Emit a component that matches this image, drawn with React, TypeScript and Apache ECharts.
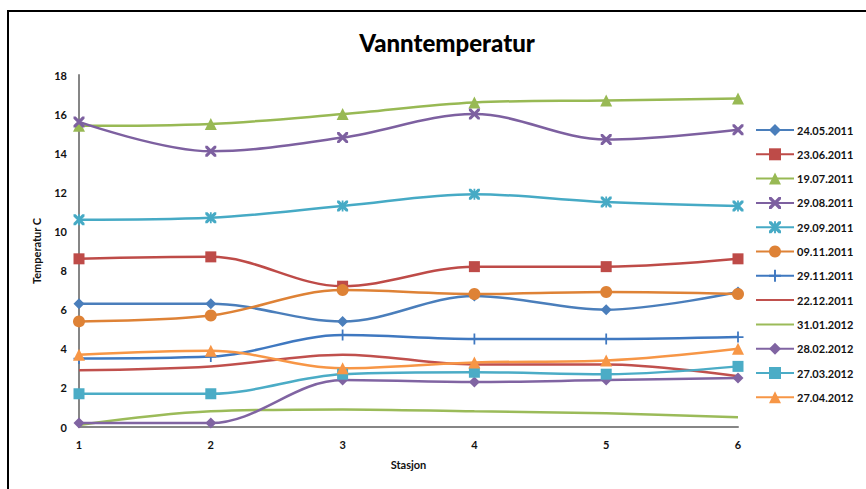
import React, { useEffect, useRef } from "react";
import * as echarts from "echarts";

const stations = ["1", "2", "3", "4", "5", "6"];

const yTicks = { min: 0, max: 18, interval: 2 };

const dates = [
  "24.05.2011",
  "23.06.2011",
  "19.07.2011",
  "29.08.2011",
  "29.09.2011",
  "09.11.2011",
  "29.11.2011",
  "22.12.2011",
  "31.01.2012",
  "28.02.2012",
  "27.03.2012",
  "27.04.2012",
];

const t240511 = [6.3, 6.3, 5.4, 6.7, 6.0, 6.9];
const t230611 = [8.6, 8.7, 7.2, 8.2, 8.2, 8.6];
const t190711 = [15.4, 15.5, 16.0, 16.6, 16.7, 16.8];
const t290811 = [15.6, 14.1, 14.8, 16.0, 14.7, 15.2];
const t290911 = [10.6, 10.7, 11.3, 11.9, 11.5, 11.3];
const t091111 = [5.4, 5.7, 7.0, 6.8, 6.9, 6.8];
const t291111 = [3.5, 3.6, 4.7, 4.5, 4.5, 4.6];
const t221211 = [2.9, 3.1, 3.7, 3.2, 3.2, 2.6];
const t310112 = [0.1, 0.8, 0.9, 0.8, 0.7, 0.5];
const t280212 = [0.2, 0.2, 2.4, 2.3, 2.4, 2.5];
const t270312 = [1.7, 1.7, 2.7, 2.8, 2.7, 3.1];
const t270412 = [3.7, 3.9, 3.0, 3.3, 3.4, 4.0];

const temps = [
  t240511, t230611, t190711, t290811, t290911, t091111,
  t291111, t221211, t310112, t280212, t270312, t270412,
];

const colors = [
  "#4A7EBB", "#BE4B48", "#98B954", "#7D60A0", "#46AAC5", "#DE8236",
  "#3F78C0", "#C0504D", "#9BBB59", "#8064A2", "#4BACC6", "#F79646",
];

const crossPath =
  "path://M0,0 L2,0 L10,8 L10,10 L8,10 L0,2 Z M8,0 L10,0 L10,2 L2,10 L0,10 L0,8 Z";
const starPath =
  "path://M0,0 L2,0 L10,8 L10,10 L8,10 L0,2 Z M8,0 L10,0 L10,2 L2,10 L0,10 L0,8 Z M4.2,0 L5.8,0 L5.8,10 L4.2,10 Z";
const plusPath =
  "path://M4.2,0 L5.8,0 L5.8,4.2 L10,4.2 L10,5.8 L5.8,5.8 L5.8,10 L4.2,10 L4.2,5.8 L0,5.8 L0,4.2 L4.2,4.2 Z";

const symbols = [
  "diamond", "rect", "triangle", crossPath, starPath, "circle",
  plusPath, "none", "none", "diamond", "rect", "triangle",
];
const symbolSizes = [11, 11, 12, 11, 11, 12, 11, 0, 0, 11, 11, 12];

const FONT = "Lato, 'Open Sans', sans-serif";

export default function App() {
  const ref = useRef<HTMLDivElement>(null);

  useEffect(() => {
    if (!ref.current) return;
    const chart = echarts.init(ref.current, undefined, { renderer: "svg" });

    const series = dates.map((name, i) => ({
      name,
      type: "line",
      data: temps[i],
      smooth: 0.35,
      symbol: symbols[i],
      symbolSize: symbolSizes[i],
      showSymbol: symbols[i] !== "none",
      lineStyle: { color: colors[i], width: 2.5 },
      itemStyle: { color: colors[i] },
      emphasis: { disabled: true },
    }));

    // plain-line series get a legend swatch without a marker
    const legendData = dates.map((name, i) =>
      symbols[i] === "none"
        ? { name, itemStyle: { opacity: 0 } }
        : { name }
    );

    chart.setOption({
      animation: false,
      backgroundColor: "#ffffff",
      title: {
        text: "Vanntemperatur",
        left: 442,
        top: 25,
        textAlign: "center",
        textStyle: {
          fontFamily: FONT,
          fontWeight: 900,
          fontSize: 24,
          color: "#000",
        },
      },
      graphic: [
        {
          type: "rect",
          shape: { x: 8, y: 11, width: 900, height: 520 },
          style: { fill: "none", stroke: "#000", lineWidth: 2 },
          silent: true,
        },
      ],
      legend: {
        orient: "vertical",
        left: 750,
        top: 119,
        itemGap: 12.3,
        itemWidth: 38,
        itemHeight: 15,
        data: legendData,
        textStyle: {
          fontFamily: FONT,
          fontWeight: "bold",
          fontSize: 11,
          color: "#111",
          padding: [0, 0, 0, -2],
        },
      },
      grid: { left: 79, right: 128, top: 75, bottom: 62 },
      xAxis: {
        type: "category",
        data: stations,
        boundaryGap: false,
        name: "Stasjon",
        nameLocation: "middle",
        nameGap: 32,
        nameTextStyle: {
          fontFamily: FONT,
          fontWeight: "bold",
          fontSize: 11,
          color: "#111",
        },
        axisLine: { lineStyle: { color: "#868686", width: 2 } },
        axisTick: { show: false },
        axisLabel: {
          fontFamily: FONT,
          fontWeight: "bold",
          fontSize: 11,
          color: "#111",
          margin: 12,
        },
        splitLine: { show: false },
      },
      yAxis: {
        type: "value",
        min: yTicks.min,
        max: yTicks.max,
        interval: yTicks.interval,
        name: "Temperatur C",
        nameLocation: "middle",
        nameGap: 37,
        nameRotate: 90,
        nameTextStyle: {
          fontFamily: FONT,
          fontWeight: "bold",
          fontSize: 11,
          color: "#111",
        },
        axisLine: { show: true, lineStyle: { color: "#868686", width: 2 } },
        axisTick: { show: false },
        axisLabel: {
          fontFamily: FONT,
          fontWeight: "bold",
          fontSize: 11,
          color: "#111",
          margin: 12,
        },
        splitLine: { show: false },
      },
      series,
    });

    return () => chart.dispose();
  }, []);

  return (
    <div
      ref={ref}
      style={{
        position: "fixed",
        left: 0,
        top: 0,
        width: 866,
        height: 489,
        background: "#fff",
      }}
    />
  );
}
